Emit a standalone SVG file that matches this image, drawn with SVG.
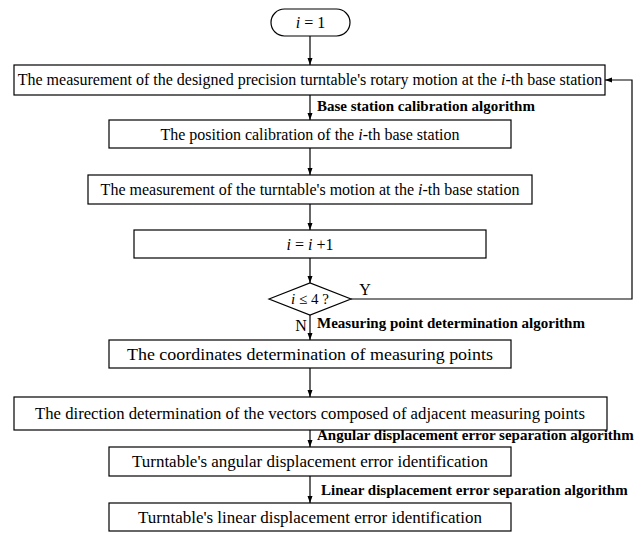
<svg xmlns="http://www.w3.org/2000/svg" width="644" height="533" viewBox="0 0 644 533">
<style>
.b{fill:#fff;stroke:#000;stroke-width:1.2}
.t{font-family:"Liberation Serif","Times New Roman",serif;font-size:16px;fill:#000;text-anchor:middle}
.w{font-size:16.5px}
.l{font-family:"Liberation Serif","Times New Roman",serif;font-size:15px;font-weight:bold;fill:#000}
.c{fill:none;stroke:#000;stroke-width:1.2}
.i{font-style:italic}
</style>
<defs>
<marker id="a" markerWidth="8" markerHeight="8" refX="7" refY="4" orient="auto" markerUnits="userSpaceOnUse">
<path d="M0,1.5 L7,4 L0,6.5 Z" fill="#000"/>
</marker>
</defs>
<g id="connectors">
<line class="c" x1="310" y1="36" x2="310" y2="65" marker-end="url(#a)"/>
<line class="c" x1="310" y1="95" x2="310" y2="120" marker-end="url(#a)"/>
<line class="c" x1="310" y1="148" x2="310" y2="175" marker-end="url(#a)"/>
<line class="c" x1="310" y1="204" x2="310" y2="230" marker-end="url(#a)"/>
<line class="c" x1="310" y1="258" x2="310" y2="283" marker-end="url(#a)"/>
<line class="c" x1="310" y1="315" x2="310" y2="340" marker-end="url(#a)"/>
<line class="c" x1="310" y1="368" x2="310" y2="397" marker-end="url(#a)"/>
<line class="c" x1="310" y1="430" x2="310" y2="447" marker-end="url(#a)"/>
<line class="c" x1="310" y1="476" x2="310" y2="503" marker-end="url(#a)"/>
<polyline class="c" points="351,299 632,299 632,80 605,80" marker-end="url(#a)"/>
<text class="t" x="365" y="295">Y</text>
<text class="t" x="301" y="331">N</text>
<text class="l" x="317" y="111">Base station calibration algorithm</text>
<text class="l" x="317" y="328">Measuring point determination algorithm</text>
<text class="l" x="317" y="440">Angular displacement error separation algorithm</text>
<text class="l" x="321" y="495">Linear displacement error separation algorithm</text>
</g>
<g id="start">
<rect class="b" x="271" y="9" width="79" height="27" rx="13.5" ry="13.5"/>
<text class="t" x="310.5" y="28"><tspan class="i">i</tspan> = 1</text>
</g>
<g id="box1">
<rect class="b" x="14" y="65" width="591" height="30"/>
<text class="t" x="310" y="85">The measurement of the designed precision turntable's rotary motion at the <tspan class="i">i</tspan>-th base station</text>
</g>
<g id="box2">
<rect class="b" x="109" y="120" width="402" height="28"/>
<text class="t" x="310" y="139.5">The position calibration of the <tspan class="i">i</tspan>-th base station</text>
</g>
<g id="box3">
<rect class="b" x="88" y="175" width="444" height="29"/>
<text class="t" x="310" y="195">The measurement of  the turntable's motion at the <tspan class="i">i</tspan>-th base station</text>
</g>
<g id="box4">
<rect class="b" x="134" y="230" width="352" height="28"/>
<text class="t" x="310" y="249.5"><tspan class="i">i</tspan> = <tspan class="i">i</tspan> +1</text>
</g>
<g id="decision">
<polygon class="b" points="269,299 310,283 351,299 310,315"/>
<text class="t" x="310" y="304" style="font-size:15px"><tspan class="i">i</tspan> ≤ 4 ?</text>
</g>
<g id="box5">
<rect class="b" x="109" y="340" width="402" height="28"/>
<text class="t w" x="310" y="359.5" textLength="366" lengthAdjust="spacingAndGlyphs">The coordinates determination of measuring points</text>
</g>
<g id="box6">
<rect class="b" x="14" y="397" width="593" height="33"/>
<text class="t w" x="310" y="418.5" textLength="550" lengthAdjust="spacingAndGlyphs">The direction determination of the vectors composed of adjacent measuring points</text>
</g>
<g id="box7">
<rect class="b" x="109" y="447" width="402" height="29"/>
<text class="t w" x="310" y="466.5" textLength="356" lengthAdjust="spacingAndGlyphs">Turntable's angular displacement error identification</text>
</g>
<g id="box8">
<rect class="b" x="109" y="503" width="402" height="28"/>
<text class="t w" x="310" y="522.5" textLength="344" lengthAdjust="spacingAndGlyphs">Turntable's linear displacement error identification</text>
</g>
</svg>
